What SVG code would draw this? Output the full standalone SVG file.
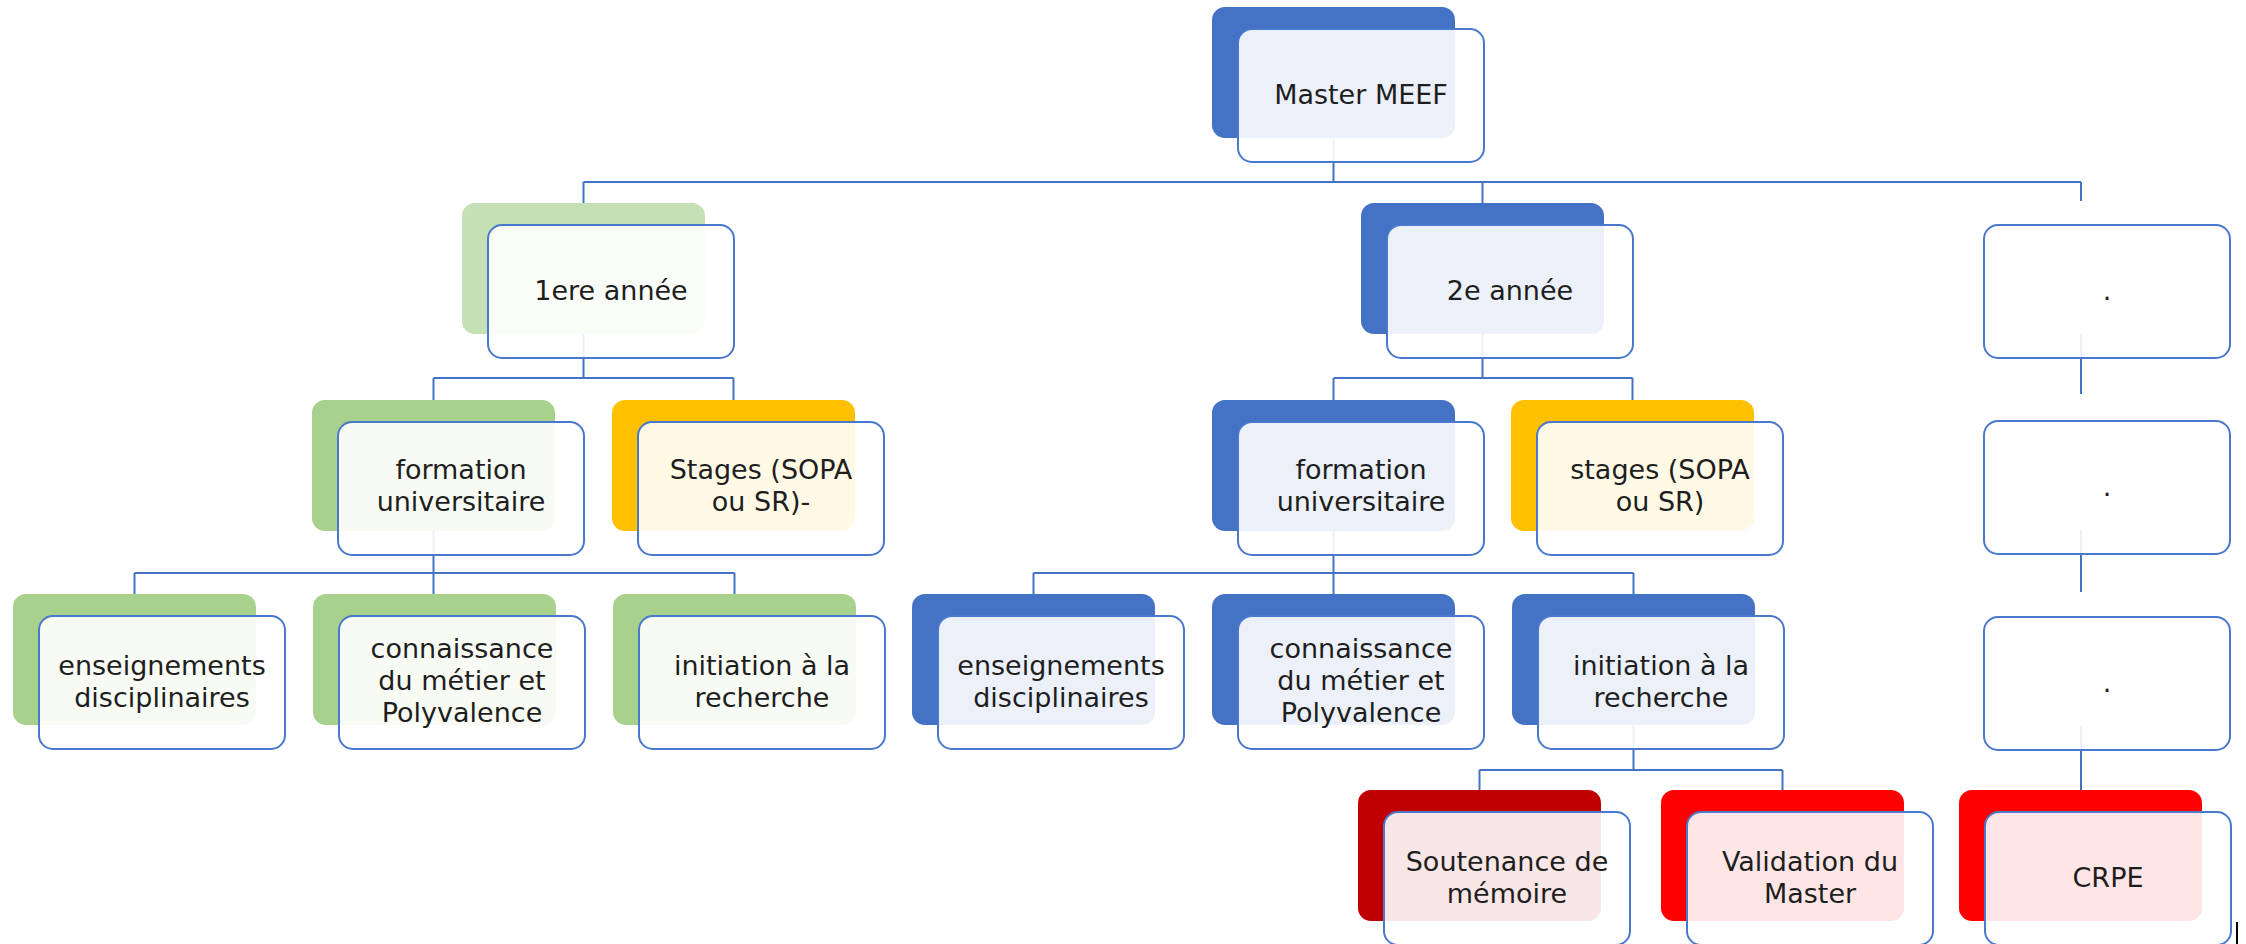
<svg xmlns="http://www.w3.org/2000/svg" width="2246" height="944" viewBox="0 0 2246 944">
<style>
.bk{stroke:none}
.fr{fill:#ffffff;fill-opacity:0.9;stroke:#4a78cc;stroke-width:2}
.c{fill:none;stroke:#4472C4;stroke-width:2}
text{font-family:"DejaVu Sans","Liberation Sans",sans-serif;font-size:27px;fill:#1e1e1e;text-anchor:middle}
.blue{fill:#4472C4}.lg{fill:#C5E0B4}.g{fill:#A9D18E}.y{fill:#FFC000}.dr{fill:#C00000}.r{fill:#FF0000}
</style>
<rect width="2246" height="944" fill="#ffffff"/>
<g id="connectors">
<path class="c" d="M1333.5 138V182M583.5 182H2081M583.5 182V203M1482.5 182V203M2081 182V201"/>
<path class="c" d="M583.5 334V378M433.5 378H733.5M433.5 378V400M733.5 378V400"/>
<path class="c" d="M1482.5 334V378M1333.5 378H1632.5M1333.5 378V400M1632.5 378V400"/>
<path class="c" d="M433.5 531V573M134.5 573H734.5M134.5 573V594M433.5 573V594M734.5 573V594"/>
<path class="c" d="M1333.5 531V573M1033.5 573H1633.5M1033.5 573V594M1333.5 573V594M1633.5 573V594"/>
<path class="c" d="M1633.5 725V770M1479.5 770H1782.5M1479.5 770V790M1782.5 770V790"/>
<path class="c" d="M2081 334V394M2081 530V592M2081 726V790"/>
</g>
<g id="master">
<rect class="bk blue" x="1212" y="7" width="243" height="131" rx="13"/>
<rect class="fr" x="1238" y="29" width="246" height="133" rx="14"/>
<text x="1361" y="104">Master MEEF</text>
</g>
<g id="annee1">
<rect class="bk lg" x="462" y="203" width="243" height="131" rx="13"/>
<rect class="fr" x="488" y="225" width="246" height="133" rx="14"/>
<text x="611" y="300">1ere année</text>
</g>
<g id="annee2">
<rect class="bk blue" x="1361" y="203" width="243" height="131" rx="13"/>
<rect class="fr" x="1387" y="225" width="246" height="133" rx="14"/>
<text x="1510" y="300">2e année</text>
</g>
<g id="dot1">
<rect class="fr" x="1984" y="225" width="246" height="133" rx="14"/>
<text x="2107" y="300">.</text>
</g>
<g id="dot2">
<rect class="fr" x="1984" y="421" width="246" height="133" rx="14"/>
<text x="2107" y="496">.</text>
</g>
<g id="dot3">
<rect class="fr" x="1984" y="617" width="246" height="133" rx="14"/>
<text x="2107" y="692">.</text>
</g>
<g id="formation1">
<rect class="bk g" x="312" y="400" width="243" height="131" rx="13"/>
<rect class="fr" x="338" y="422" width="246" height="133" rx="14"/>
<text x="461" y="479">formation</text>
<text x="461" y="511">universitaire</text>
</g>
<g id="stages1">
<rect class="bk y" x="612" y="400" width="243" height="131" rx="13"/>
<rect class="fr" x="638" y="422" width="246" height="133" rx="14"/>
<text x="761" y="479">Stages (SOPA</text>
<text x="761" y="511">ou SR)-</text>
</g>
<g id="formation2">
<rect class="bk blue" x="1212" y="400" width="243" height="131" rx="13"/>
<rect class="fr" x="1238" y="422" width="246" height="133" rx="14"/>
<text x="1361" y="479">formation</text>
<text x="1361" y="511">universitaire</text>
</g>
<g id="stages2">
<rect class="bk y" x="1511" y="400" width="243" height="131" rx="13"/>
<rect class="fr" x="1537" y="422" width="246" height="133" rx="14"/>
<text x="1660" y="479">stages (SOPA</text>
<text x="1660" y="511">ou SR)</text>
</g>
<g id="ens1">
<rect class="bk g" x="13" y="594" width="243" height="131" rx="13"/>
<rect class="fr" x="39" y="616" width="246" height="133" rx="14"/>
<text x="162" y="675">enseignements</text>
<text x="162" y="707">disciplinaires</text>
</g>
<g id="conn1">
<rect class="bk g" x="313" y="594" width="243" height="131" rx="13"/>
<rect class="fr" x="339" y="616" width="246" height="133" rx="14"/>
<text x="462" y="658">connaissance</text>
<text x="462" y="690">du métier et</text>
<text x="462" y="722">Polyvalence</text>
</g>
<g id="init1">
<rect class="bk g" x="613" y="594" width="243" height="131" rx="13"/>
<rect class="fr" x="639" y="616" width="246" height="133" rx="14"/>
<text x="762" y="675">initiation à la</text>
<text x="762" y="707">recherche</text>
</g>
<g id="ens2">
<rect class="bk blue" x="912" y="594" width="243" height="131" rx="13"/>
<rect class="fr" x="938" y="616" width="246" height="133" rx="14"/>
<text x="1061" y="675">enseignements</text>
<text x="1061" y="707">disciplinaires</text>
</g>
<g id="conn2">
<rect class="bk blue" x="1212" y="594" width="243" height="131" rx="13"/>
<rect class="fr" x="1238" y="616" width="246" height="133" rx="14"/>
<text x="1361" y="658">connaissance</text>
<text x="1361" y="690">du métier et</text>
<text x="1361" y="722">Polyvalence</text>
</g>
<g id="init2">
<rect class="bk blue" x="1512" y="594" width="243" height="131" rx="13"/>
<rect class="fr" x="1538" y="616" width="246" height="133" rx="14"/>
<text x="1661" y="675">initiation à la</text>
<text x="1661" y="707">recherche</text>
</g>
<g id="soutenance">
<rect class="bk dr" x="1358" y="790" width="243" height="131" rx="13"/>
<rect class="fr" x="1384" y="812" width="246" height="133" rx="14"/>
<text x="1507" y="871">Soutenance de</text>
<text x="1507" y="903">mémoire</text>
</g>
<g id="validation">
<rect class="bk r" x="1661" y="790" width="243" height="131" rx="13"/>
<rect class="fr" x="1687" y="812" width="246" height="133" rx="14"/>
<text x="1810" y="871">Validation du</text>
<text x="1810" y="903">Master</text>
</g>
<g id="crpe">
<rect class="bk r" x="1959" y="790" width="243" height="131" rx="13"/>
<rect class="fr" x="1985" y="812" width="246" height="133" rx="14"/>
<text x="2108" y="887">CRPE</text>
</g>
<rect x="2236" y="922" width="2" height="22" fill="#000000"/>
</svg>
